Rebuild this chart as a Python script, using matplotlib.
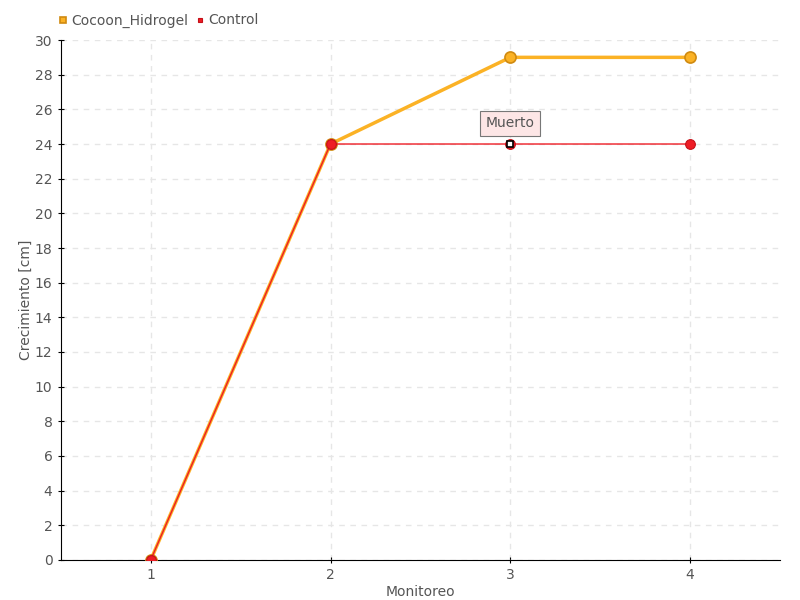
import matplotlib.pyplot as plt

# Crecimiento por monitoreo: Cocoon_Hidrogel vs Control
monitoreo = [1, 2, 3, 4]
cocoon = [0, 24, 29, 29]
control = [0, 24, 24, 24]
muerto_idx = 2

plt.rcParams['font.family'] = ['DejaVu Sans']
gris = '#555555'

fig = plt.figure(figsize=(8, 6), dpi=100)
ax = fig.add_axes([0.076, 0.0667, 0.899, 0.8666])

ax.plot(monitoreo, cocoon, color='#FBB225', lw=2.5, marker='o', ms=8,
        mfc='#FBB225', mec='#D08A10', mew=1.2, label='Cocoon_Hidrogel', zorder=3)
ax.plot(monitoreo, control, color='#EE1C25', lw=1.0, marker='o', ms=7,
        mfc='#EE1C25', mec='#C41018', mew=0.8, label='Control', zorder=4)

# punto marcado como muerto
ax.plot(monitoreo[muerto_idx], control[muerto_idx], marker='s', ms=4.5,
        mfc='white', mec='black', mew=1.2, ls='none', zorder=5)
ax.annotate('Muerto', (monitoreo[muerto_idx], control[muerto_idx]),
            xytext=(0, 15), textcoords='offset points', ha='center', va='center',
            fontsize=10, color=gris,
            bbox=dict(boxstyle='square,pad=0.4', fc='#FDE6E6', ec='#777777', lw=0.8),
            zorder=6)

ax.set_xlim(0.5, 4.5)
ax.set_ylim(0, 30)
ax.set_xticks(monitoreo)
ax.set_yticks(range(0, 31, 2))
ax.grid(True, linestyle=(0, (4, 4)), color='#E6E6E6', lw=1)
ax.set_axisbelow(True)
for s in ['top', 'right']:
    ax.spines[s].set_visible(False)
ax.tick_params(direction='inout', length=5, colors='black', labelcolor=gris, labelsize=10)

ax.set_xlabel('Monitoreo', color=gris, fontsize=10, labelpad=2)
ax.set_ylabel('Crecimiento [cm]', color=gris, fontsize=10, labelpad=1)

leg = ax.legend(loc='lower left', bbox_to_anchor=(-0.02, 1.0), ncol=2, frameon=False,
                fontsize=10, handlelength=0.6, handletextpad=0.3, columnspacing=0.5,
                markerscale=0.5)
for h in leg.legend_handles:
    h.set_linestyle('none')
    h.set_marker('s')
for t in leg.get_texts():
    t.set_color(gris)

plt.savefig('out.png')
